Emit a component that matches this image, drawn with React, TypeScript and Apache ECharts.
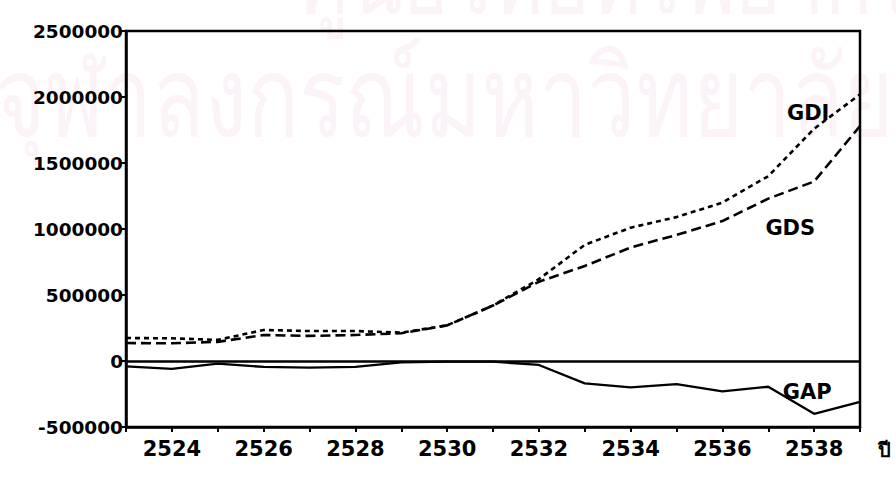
import React, { useEffect, useRef } from "react";
import * as echarts from "echarts";

const years = [2523, 2524, 2525, 2526, 2527, 2528, 2529, 2530, 2531, 2532, 2533, 2534, 2535, 2536, 2537, 2538, 2539];
const gdi = [174000, 172000, 160000, 235000, 227000, 227000, 215000, 270000, 420000, 620000, 880000, 1010000, 1090000, 1200000, 1400000, 1760000, 2020000];
const gds = [136000, 134000, 145000, 197000, 190000, 197000, 210000, 270000, 420000, 600000, 720000, 860000, 955000, 1060000, 1230000, 1360000, 1780000];
const gap = [-40000, -60000, -20000, -45000, -50000, -45000, -10000, -5000, -5000, -30000, -170000, -200000, -175000, -230000, -195000, -400000, -310000];

const seriesLabels = [
  { name: "GDI", coord: [2537.87, 1880000] },
  { name: "GDS", coord: [2537.48, 1010000] },
  { name: "GAP", coord: [2537.85, -235000] },
];

const FONT = "DejaVu Sans";

export default function App() {
  const ref = useRef<HTMLDivElement>(null);
  useEffect(() => {
    if (!ref.current) return;
    const chart = echarts.init(ref.current, undefined, { renderer: "svg" });
    const pts = (arr: number[]) => years.map((y, i) => [y, arr[i]]);
    const labelPoint = (name: string) => {
      const l = seriesLabels.find((s) => s.name === name)!;
      return {
        silent: true,
        symbol: "circle",
        symbolSize: 0,
        data: [{ coord: l.coord, name }],
        label: {
          show: true,
          position: "inside",
          formatter: name,
          color: "#000",
          fontFamily: FONT,
          fontWeight: "bold",
          fontSize: 21,
        },
      };
    };
    chart.setOption({
      animation: false,
      backgroundColor: "#fff",
      graphic: [
        {
          type: "text",
          x: 300,
          y: -73,
          scaleY: 1.3,
          z: -10,
          silent: true,
          style: { x: 0, y: 0, verticalAlign: "top", text: "ศูนย์วิทยทรัพยากร", fontSize: 78, fontFamily: "sans-serif", fill: "#fcf3f8" },
        },
        {
          type: "text",
          x: -5,
          y: 41,
          scaleY: 1.3,
          z: -10,
          silent: true,
          style: { x: 0, y: 0, verticalAlign: "top", text: "จุฬาลงกรณ์มหาวิทยาลัย", fontSize: 86, fontFamily: "sans-serif", fill: "#fcf3f8" },
        },
        {
          type: "text",
          left: 878,
          top: 440,
          style: { text: "ปี", fontSize: 20, fontWeight: "bold", fontFamily: "sans-serif", fill: "#000" },
        },
      ],
      grid: {
        left: 126,
        right: 36,
        top: 31,
        bottom: 50,
        show: true,
        borderColor: "#000",
        borderWidth: 2.5,
        backgroundColor: "transparent",
      },
      xAxis: {
        type: "value",
        min: 2523,
        max: 2539,
        interval: 1,
        axisLine: { show: true, onZero: false, lineStyle: { color: "#000", width: 2.5 } },
        axisTick: { show: true, inside: false, length: 5, lineStyle: { color: "#000", width: 2 } },
        axisLabel: {
          formatter: (v: number) => (v % 2 === 0 ? String(v) : ""),
          color: "#000",
          fontFamily: FONT,
          fontWeight: "bold",
          fontSize: 21,
          margin: 11,
        },
        splitLine: { show: false },
      },
      yAxis: {
        type: "value",
        min: -500000,
        max: 2500000,
        interval: 500000,
        axisLine: { show: true, lineStyle: { color: "#000", width: 2.5 } },
        axisTick: { show: true, inside: false, length: 6, lineStyle: { color: "#000", width: 2 } },
        axisLabel: {
          formatter: (v: number) => String(v),
          color: "#000",
          fontFamily: FONT,
          fontWeight: "bold",
          fontSize: 18.5,
          margin: 3,
        },
        splitLine: { show: false },
      },
      series: [
        {
          name: "GDI",
          type: "line",
          data: pts(gdi),
          symbol: "none",
          lineStyle: { color: "#000", width: 2.6, type: [5, 4] },
          markPoint: labelPoint("GDI"),
        },
        {
          name: "GDS",
          type: "line",
          data: pts(gds),
          symbol: "none",
          lineStyle: { color: "#000", width: 2.6, type: [10, 5] },
          markPoint: labelPoint("GDS"),
        },
        {
          name: "GAP",
          type: "line",
          data: pts(gap),
          symbol: "none",
          lineStyle: { color: "#000", width: 2.3, type: "solid" },
          markPoint: labelPoint("GAP"),
          markLine: {
            silent: true,
            symbol: "none",
            label: { show: false },
            lineStyle: { color: "#000", width: 2.5, type: "solid" },
            data: [{ yAxis: 0 }],
          },
        },
      ],
    });
    return () => chart.dispose();
  }, []);
  return <div ref={ref} style={{ width: 896, height: 477, position: "fixed", left: 0, top: 0 }} />;
}
